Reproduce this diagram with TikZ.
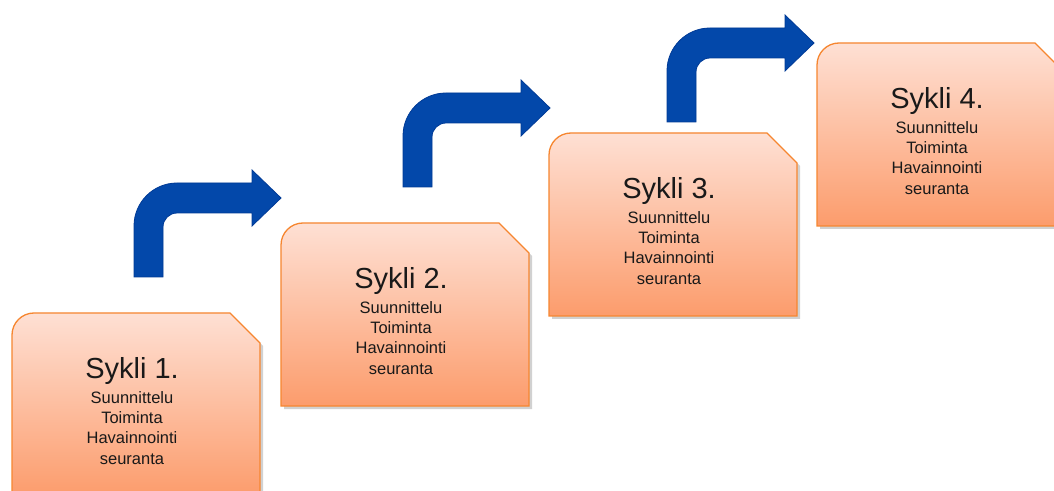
\documentclass[tikz,border=0pt]{standalone}
\usepackage{fontspec}
\setmainfont{Liberation Sans}
\definecolor{boxtop}{RGB}{254,224,212}
\definecolor{boxbot}{RGB}{252,156,108}
\definecolor{boxline}{RGB}{246,134,48}
\definecolor{arrowblue}{RGB}{3,72,170}
\definecolor{arrowline}{RGB}{0,58,150}
\tikzset{
  boxshape/.style={top color=boxtop, bottom color=boxbot, draw=boxline, line width=1.3pt},
  boxshadow/.style={fill=black, opacity=0.18},
  arrowshape/.style={fill=arrowblue, draw=arrowline, line width=0.8pt},
  titletext/.style={font=\fontsize{29}{34}\selectfont, text=black!90, inner sep=0pt, anchor=base},
  bodytext/.style={font=\fontsize{16.5}{20.3}\selectfont, text=black!90, inner sep=0pt, anchor=north, align=center}
}
% #1 left x, #2 top Y, #3 number
\newcommand\cyclebox[3]{%
  \path[boxshadow] ({#1+3},{#2-186}) -- ({#1+3},{#2-25}) arc[start angle=180, end angle=90, radius=22] -- ({#1+221},{#2-3}) -- ({#1+251},{#2-33}) -- ({#1+251},{#2-186}) -- cycle;
  \shadedraw[boxshape] (#1,{#2-183}) -- (#1,{#2-22}) arc[start angle=180, end angle=90, radius=22] -- ({#1+218},#2) -- ({#1+248},{#2-30}) -- ({#1+248},{#2-183}) -- cycle;
  \node[titletext] (title#3) at ({#1+120},{#2-66}) {Sykli #3.};
  \node[bodytext] (body#3) at ({#1+120},{#2-78}) {Suunnittelu\\Toiminta\\Havainnointi\\seuranta};
}
% #1 left x, #2 bottom Y
\newcommand\bentarrow[2]{%
  \path[arrowshape] (#1,#2) -- (#1,{#2+51}) arc[start angle=180, end angle=90, radius=43] -- ({#1+118},{#2+94}) -- ({#1+118},{#2+107}) -- ({#1+147},{#2+79}) -- ({#1+118},{#2+51}) -- ({#1+118},{#2+64}) -- ({#1+43},{#2+64}) arc[start angle=90, end angle=180, radius=14] -- ({#1+29},#2) -- cycle;
}
\begin{document}
\begin{tikzpicture}[x=1pt,y=1pt]
\useasboundingbox (0,0) rectangle (1054,490);
\clip (0,0) rectangle (1054,490);
\fill[white] (0,0) rectangle (1054,490);
\bentarrow{134}{213}
\bentarrow{403}{303}
\bentarrow{667}{368}
\cyclebox{12}{177}{1}
\cyclebox{281}{267}{2}
\cyclebox{549}{357}{3}
\cyclebox{817}{447}{4}
\end{tikzpicture}
\end{document}
